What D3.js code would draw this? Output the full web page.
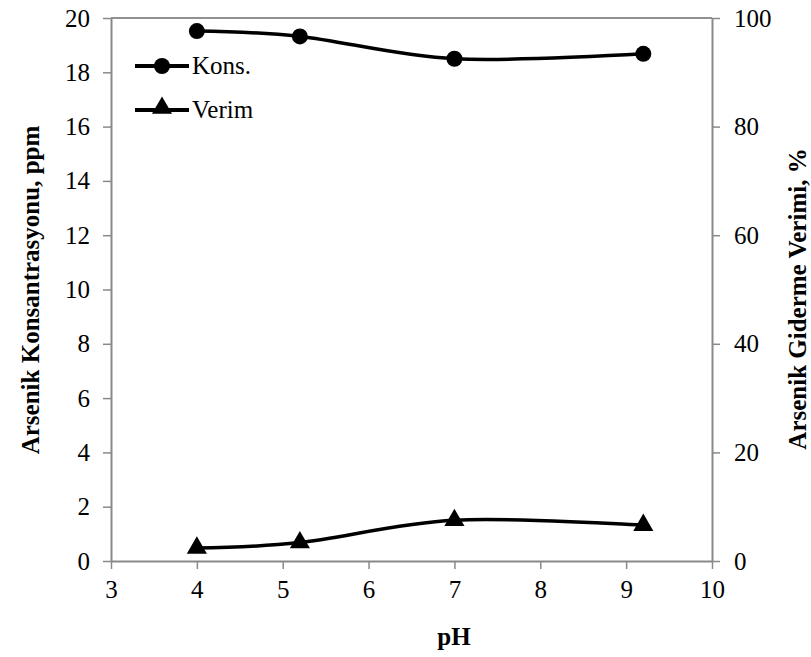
<!DOCTYPE html>
<html>
<head>
<meta charset="utf-8">
<script src="https://cdn.jsdelivr.net/npm/d3@7"></script>
</head>
<body style="margin:0">
<div id="chart"></div>
<script>
// data
var phValues = [4, 5.2, 7, 9.2];
var konsValues = [19.52, 19.32, 18.5, 18.68];   // ppm, left axis
var verimValues = [2.4, 3.4, 7.5, 6.6];         // %, right axis
var xTicks = [3, 4, 5, 6, 7, 8, 9, 10];
var yLeftTicks = [0, 2, 4, 6, 8, 10, 12, 14, 16, 18, 20];
var yRightTicks = [0, 20, 40, 60, 80, 100];
var seriesNames = ["Kons.", "Verim"];

var svgWidth = 811, svgHeight = 657;
var margin = { top: 18, right: 99, bottom: 96, left: 111 };
var chartWidth = svgWidth - margin.left - margin.right;
var chartHeight = svgHeight - margin.top - margin.bottom;

var svg = d3.select("#chart").append("svg")
    .attr("width", svgWidth)
    .attr("height", svgHeight);

var chartGroup = svg.append("g")
    .attr("transform", `translate(${margin.left}, ${margin.top})`);

var xScale = d3.scaleLinear().domain([3, 10]).range([0, chartWidth]);
var yLeft = d3.scaleLinear().domain([0, 20]).range([chartHeight, 0]);
var yRight = d3.scaleLinear().domain([0, 100]).range([chartHeight, 0]);

var axisColor = "#898989";

// top border of plot area
chartGroup.append("line")
    .attr("x1", 0).attr("x2", chartWidth)
    .attr("y1", 0).attr("y2", 0)
    .attr("stroke", "#222").attr("stroke-width", 1);

function styleAxis(g) {
  g.select(".domain").attr("stroke", axisColor).attr("stroke-width", 2);
  g.selectAll(".tick line").attr("stroke", axisColor).attr("stroke-width", 1.5);
  g.selectAll(".tick text")
    .attr("fill", "#000")
    .attr("font-size", 25)
    .attr("font-family", "Liberation Serif")
    .style("font-family", "'Liberation Serif'");
}

// axes
var fmt = d3.format("d");
var xAxis = chartGroup.append("g")
    .attr("transform", `translate(0, ${chartHeight})`)
    .call(d3.axisBottom(xScale).tickValues(xTicks).tickFormat(fmt).tickSize(8).tickSizeOuter(0).tickPadding(11));
styleAxis(xAxis);

var leftAxis = chartGroup.append("g")
    .call(d3.axisLeft(yLeft).tickValues(yLeftTicks).tickFormat(fmt).tickSize(8).tickSizeOuter(0).tickPadding(13));
styleAxis(leftAxis);

var rightAxis = chartGroup.append("g")
    .attr("transform", `translate(${chartWidth}, 0)`)
    .call(d3.axisRight(yRight).tickValues(yRightTicks).tickFormat(fmt).tickSize(8).tickSizeOuter(0).tickPadding(14));
styleAxis(rightAxis);

// smoothed lines like the spreadsheet's
var curve = d3.curveCardinal.tension(0);

var konsData = phValues.map((p, i) => ({ x: p, y: konsValues[i] }));
var verimData = phValues.map((p, i) => ({ x: p, y: verimValues[i] }));

chartGroup.append("path")
    .datum(konsData)
    .attr("fill", "none").attr("stroke", "#000").attr("stroke-width", 3.5)
    .attr("d", d3.line().x(d => xScale(d.x)).y(d => yLeft(d.y)).curve(curve));

chartGroup.append("path")
    .datum(verimData)
    .attr("fill", "none").attr("stroke", "#000").attr("stroke-width", 3.5)
    .attr("d", d3.line().x(d => xScale(d.x)).y(d => yRight(d.y)).curve(curve));

chartGroup.selectAll("circle.kons")
    .data(konsData)
    .enter()
    .append("circle")
    .attr("class", "kons")
    .attr("cx", d => xScale(d.x))
    .attr("cy", d => yLeft(d.y))
    .attr("r", 8)
    .attr("fill", "#000");

var tri = d3.symbol().type(d3.symbolTriangle).size(175);
chartGroup.selectAll("path.verim")
    .data(verimData)
    .enter()
    .append("path")
    .attr("class", "verim")
    .attr("transform", d => `translate(${xScale(d.x)}, ${yRight(d.y)})`)
    .attr("d", tri)
    .attr("fill", "#000");

// legend
var legend = svg.append("g");
var legendRows = [
  { name: seriesNames[0], y: 66, marker: "circle" },
  { name: seriesNames[1], y: 110, marker: "triangle" }
];
legendRows.forEach(function(r) {
  legend.append("line")
    .attr("x1", 135).attr("x2", 189)
    .attr("y1", r.y).attr("y2", r.y)
    .attr("stroke", "#000").attr("stroke-width", 4);
  if (r.marker === "circle") {
    legend.append("circle").attr("cx", 162).attr("cy", r.y).attr("r", 8).attr("fill", "#000");
  } else {
    legend.append("path").attr("transform", `translate(162, ${r.y - 2})`).attr("d", tri).attr("fill", "#000");
  }
  legend.append("text")
    .attr("x", 192).attr("y", r.y + 8)
    .attr("font-size", 25)
    .attr("font-family", "Liberation Serif")
    .style("font-family", "'Liberation Serif'")
    .text(r.name);
});

// axis titles
function titleStyle(t) {
  t.attr("font-size", 25).attr("font-weight", "bold").attr("text-anchor", "middle")
    .attr("font-family", "Liberation Serif")
    .style("font-family", "'Liberation Serif'");
}
svg.append("text")
    .attr("x", 454).attr("y", 645)
    .call(titleStyle)
    .text("pH");

svg.append("text")
    .attr("transform", "translate(39, 290) rotate(-90)")
    .call(titleStyle)
    .text("Arsenik Konsantrasyonu, ppm");

svg.append("text")
    .attr("transform", "translate(806, 299) rotate(-90)")
    .call(titleStyle)
    .text("Arsenik Giderme Verimi, %");
</script>
</body>
</html>
